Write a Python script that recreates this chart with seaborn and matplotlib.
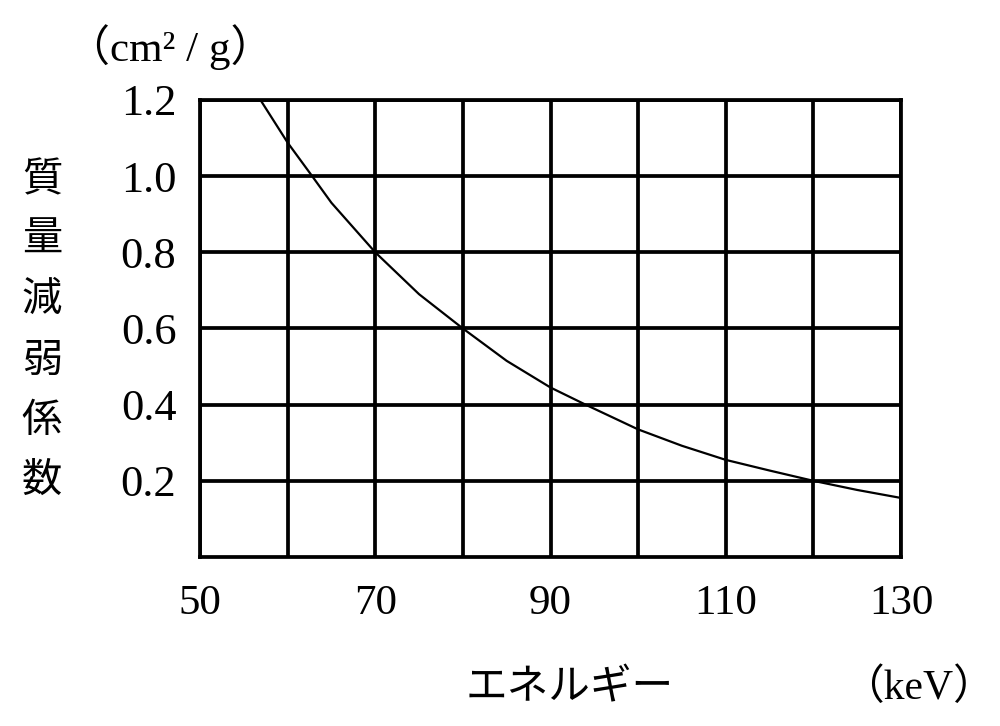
import matplotlib
matplotlib.use("Agg")
import matplotlib.pyplot as plt
import seaborn as sns
import pandas as pd
from matplotlib.ticker import FixedLocator

# --- data ---
energy_kev = [56.9, 60, 62.8, 65, 70, 75, 80, 85, 90, 94, 100, 105, 110, 115, 120, 125, 130]
mass_atten = [1.2, 1.088, 1.0, 0.93, 0.8, 0.69, 0.6, 0.515, 0.445, 0.4, 0.335, 0.292, 0.255, 0.227, 0.2, 0.176, 0.155]
x_major_ticks = [50, 70, 90, 110, 130]
x_minor_ticks = [60, 80, 100, 120]
y_ticks = [0.2, 0.4, 0.6, 0.8, 1.0, 1.2]
y_tick_labels = ["0.2", "0.4", "0.6", "0.8", "1.0", "1.2"]
ylabel_text = "質量減弱係数"
xlabel_text = "エネルギー"
y_unit = "（cm² / g）"
x_unit = "（keV）"

sns.set_theme(style="white")
plt.rcParams["font.family"] = ["Liberation Serif", "Noto Sans CJK JP", "DejaVu Sans"]

df = pd.DataFrame({"energy": energy_kev, "mu": mass_atten})

fig = plt.figure(figsize=(10, 7.26), dpi=100)
ax = fig.add_axes([0.200, 0.2328, 0.701, 0.6295])

sns.lineplot(data=df, x="energy", y="mu", ax=ax, color="black", linewidth=1.6, sort=True)

ax.set_xlim(50, 130)
ax.set_ylim(0, 1.2)

ax.xaxis.set_major_locator(FixedLocator(x_major_ticks))
ax.xaxis.set_minor_locator(FixedLocator(x_minor_ticks))
ax.set_xticklabels([str(v) for v in x_major_ticks])
ax.yaxis.set_major_locator(FixedLocator(y_ticks))
ax.set_yticklabels(y_tick_labels)

grid_lw = 2.7
ax.grid(True, which="both", axis="both", color="black", linewidth=grid_lw)
ax.set_axisbelow(True)
for s in ax.spines.values():
    s.set_visible(True)
    s.set_color("black")
    s.set_linewidth(grid_lw)

ax.tick_params(axis="x", which="both", length=0, pad=20, labelsize=31, colors="black")
ax.tick_params(axis="y", which="both", length=0, pad=17, labelsize=32, colors="black")

ax.set_xlabel("")
ax.set_ylabel("")

# vertical y label
fig.text(0.042, 0.5455, "\n".join(ylabel_text), ha="center", va="center",
         fontsize=29, linespacing=1.60, family=["Noto Sans CJK JP"], color="black")
# units
fig.text(0.170, 0.935, y_unit, ha="center", va="center", fontsize=31, color="black",
         family=["Liberation Serif", "Noto Sans CJK JP"])
fig.text(0.570, 0.052, xlabel_text, ha="center", va="center", fontsize=30,
         family=["Noto Sans CJK JP"], color="black")
fig.text(0.918, 0.052, x_unit, ha="center", va="center", fontsize=30, color="black",
         family=["Liberation Serif", "Noto Sans CJK JP"])

fig.savefig("out.png", dpi=100, facecolor="white")
